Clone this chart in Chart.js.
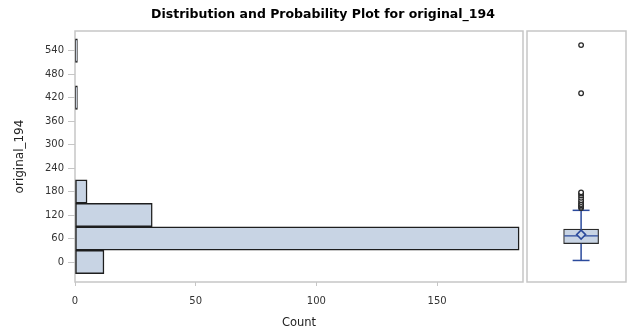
<!DOCTYPE html>
<html>
<head>
<meta charset="utf-8">
<script src="https://cdn.jsdelivr.net/npm/chart.js@4"></script>
<style>
  html, body { margin: 0; padding: 0; background: #ffffff; }
  #wrap { position: relative; width: 632px; height: 335px; }
  #wrap canvas { position: absolute; left: 0; top: 0; }
</style>
</head>
<body>
<div id="wrap">
  <canvas id="hist" width="632" height="335"></canvas>
  <canvas id="box" width="632" height="335"></canvas>
</div>
<script>
// Histogram bins (midpoints) and their counts
const binMidpoints = [0, 60, 120, 180, 420, 540];
const binCounts = [12, 184, 32, 5, 1, 1];

// Axis tick labels
const valueTicks = [0, 60, 120, 180, 240, 300, 360, 420, 480, 540];
const countTicks = [0, 50, 100, 150];

// Box plot summary: [lower whisker, Q1, median, Q3, upper whisker]
const boxSummary = [4, 47, 67, 84, 132];
const boxMean = [70];
const outlierValues = [138, 141, 145, 148, 153, 158, 164, 170, 175, 178, 431, 554];

const FILL = '#c8d4e4';
const EDGE = '#1e1e1e';
const FRAME = '#c6c6c6';
const WHISKER = '#2b4a9c';
const VALUE_MIN = -51, VALUE_MAX = 590;

// Light grey frame around each panel's plotting area
const panelFrame = {
  id: 'panelFrame',
  beforeDatasetsDraw(chart) {
    const a = chart.chartArea, ctx = chart.ctx;
    ctx.save();
    ctx.strokeStyle = FRAME;
    ctx.lineWidth = 1.5;
    ctx.strokeRect(a.left, a.top, a.right - a.left, a.bottom - a.top);
    ctx.restore();
  }
};

const tickFont = { family: 'DejaVu Sans', size: 10 };

new Chart(document.getElementById('hist'), {
  type: 'bar',
  data: {
    datasets: [{
      data: binMidpoints.map((m, i) => ({ x: binCounts[i], y: m })),
      backgroundColor: FILL,
      borderColor: EDGE,
      borderWidth: 1.5,
      borderSkipped: false,
      categoryPercentage: 1,
      barPercentage: 1
    }]
  },
  options: {
    indexAxis: 'y',
    responsive: false,
    animation: false,
    layout: { padding: { left: 14, right: 0, top: 0, bottom: 0 } },
    plugins: {
      legend: { display: false },
      tooltip: { enabled: false },
      title: {
        display: true,
        text: 'Distribution and Probability Plot for original_194',
        color: '#000',
        font: { family: 'DejaVu Sans', size: 12.5, weight: 'bold' },
        padding: { top: 7, bottom: 9 }
      }
    },
    scales: {
      y: {
        type: 'linear', position: 'left', min: VALUE_MIN, max: VALUE_MAX, offset: false,
        afterBuildTicks: s => { s.ticks = valueTicks.map(v => ({ value: v })); },
        afterFit: s => { s.width = 61; },
        grid: { display: true, offset: false, drawOnChartArea: false, drawTicks: true, tickLength: 7, color: FRAME },
        border: { display: false },
        ticks: { padding: 4, color: '#333', font: tickFont },
        title: { display: true, text: 'original_194', color: '#222',
                 font: { family: 'DejaVu Sans', size: 12 }, padding: { top: -1, bottom: 0 } }
      },
      x: {
        type: 'linear', position: 'bottom', min: 0, max: 185.6, offset: false,
        afterBuildTicks: s => { s.ticks = countTicks.map(v => ({ value: v })); },
        afterFit: s => { s.height = 53; },
        grid: { display: true, offset: false, drawOnChartArea: false, drawTicks: true, tickLength: 4, color: FRAME },
        border: { display: false },
        ticks: { padding: 9, color: '#333', font: tickFont, maxRotation: 0 },
        title: { display: true, text: 'Count', color: '#222',
                 font: { family: 'DejaVu Sans', size: 11.5 }, padding: { top: 0, bottom: 5 } }
      },
      side: {
        type: 'linear', position: 'right', display: true,
        afterFit: s => { s.width = 109; },
        grid: { display: false }, ticks: { display: false }, border: { display: false }
      }
    }
  },
  plugins: [panelFrame]
});

// Box plot panel, sharing the value range of the histogram
const CAP_HALF = 0.171, MEDIAN_HALF = 0.34;
const [wLow, q1, med, q3, wHigh] = boxSummary;
const seg = (pts, extra) => Object.assign({
  type: 'line', data: pts, borderColor: WHISKER, borderWidth: 1.5,
  pointRadius: 0, fill: false, order: 2
}, extra || {});

new Chart(document.getElementById('box'), {
  type: 'bar',
  data: {
    datasets: [
      { type: 'bar', data: [{ x: 0, y: [q1, q3] }], backgroundColor: FILL, borderColor: '#2a2a2a',
        borderWidth: 1.2, borderSkipped: false, barThickness: 35, order: 3 },
      seg([{ x: 0, y: q3 }, { x: 0, y: wHigh }]),
      seg([{ x: 0, y: q1 }, { x: 0, y: wLow }]),
      seg([{ x: -CAP_HALF, y: wHigh }, { x: CAP_HALF, y: wHigh }]),
      seg([{ x: -CAP_HALF, y: wLow }, { x: CAP_HALF, y: wLow }]),
      seg([{ x: -MEDIAN_HALF, y: med }, { x: MEDIAN_HALF, y: med }], { borderWidth: 1.2, order: 1 }),
      { type: 'scatter', data: boxMean.map(v => ({ x: 0, y: v })), pointStyle: 'rectRot', pointRadius: 4.5,
        borderColor: WHISKER, borderWidth: 1.5, backgroundColor: FILL, order: 0 },
      { type: 'scatter', data: outlierValues.map(v => ({ x: 0, y: v })), pointStyle: 'circle', pointRadius: 2.3,
        borderColor: '#2a2a2a', borderWidth: 1.3, backgroundColor: '#ffffff', order: 0 }
    ]
  },
  options: {
    responsive: false,
    animation: false,
    layout: { padding: { left: 527, right: 2, top: 31, bottom: 53 } },
    plugins: { legend: { display: false }, tooltip: { enabled: false }, title: { display: false } },
    scales: {
      x: { type: 'linear', display: false, min: -1.093, max: 0.907, offset: false },
      y: { type: 'linear', display: false, min: VALUE_MIN, max: VALUE_MAX }
    }
  },
  plugins: [panelFrame]
});
</script>
</body>
</html>
